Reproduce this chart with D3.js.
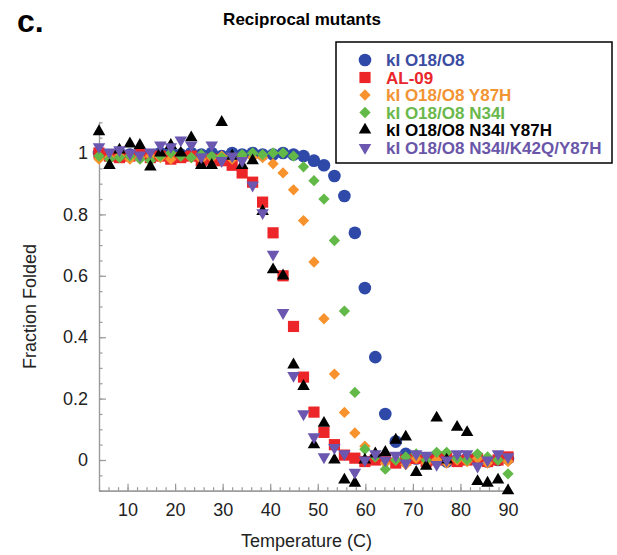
<!DOCTYPE html>
<html>
<head>
<meta charset="utf-8">
<script src="https://cdn.jsdelivr.net/npm/d3@7"></script>
<style>
  body { margin: 0; background: #fff; }
  text { font-family: "Liberation Sans", Arial, sans-serif; }
</style>
</head>
<body>
<div id="chart"></div>
<script>
// temperatures (C) of the melt points
const temps = [4.0, 6.2, 8.3, 10.5, 12.6, 14.8, 16.9, 19.1, 21.2, 23.4, 25.5, 27.7, 29.8, 32.0,
  34.1, 36.3, 38.4, 40.6, 42.7, 44.9, 47.0, 49.2, 51.3, 53.5, 55.6, 57.8, 59.9, 62.1, 64.2,
  66.4, 68.5, 70.7, 72.8, 75.0, 77.1, 79.3, 81.4, 83.6, 85.7, 87.9, 90.0];

const klO18O8 = [1.0, 0.99, 1.0, 0.995, 1.0, 0.99, 1.0, 1.005, 0.995, 1.0, 0.995, 1.0, 0.99, 1.0,
  0.995, 1.0, 0.995, 0.995, 1.0, 0.995, 0.99, 0.975, 0.96, 0.925, 0.86, 0.74, 0.56, 0.335, 0.15,
  0.06, 0.02, 0.005, 0.0, 0.01, -0.005, 0.0, 0.005, 0.0, -0.005, 0.0, 0.005];
const al09 = [1.0, 0.99, 0.985, 0.99, 0.995, 0.985, 0.99, 0.98, 0.985, 0.99, 0.975, 0.98, 0.975, 0.96,
  0.935, 0.905, 0.84, 0.74, 0.60, 0.435, 0.27, 0.156, 0.09, 0.05, 0.016, 0.006, -0.005, 0.0, 0.005,
  -0.01, 0.0, 0.005, -0.005, 0.0, 0.01, -0.005, 0.0, 0.005, -0.005, 0.0, 0.01];
const y87h = [0.98, 0.985, 0.99, 0.98, 0.985, 0.99, 0.985, 0.98, 0.99, 0.985, 0.98, 0.985, 0.99, 0.98,
  0.985, 0.985, 0.985, 0.965, 0.935, 0.88, 0.78, 0.645, 0.46, 0.28, 0.155, 0.088, 0.045, 0.01, -0.01,
  0.0, -0.015, 0.005, -0.01, 0.0, -0.01, 0.0, -0.005, 0.005, -0.01, 0.0, -0.005];
const n34i = [0.99, 0.98, 0.985, 0.99, 0.98, 0.975, 0.99, 1.0, 0.99, 0.985, 0.995, 0.99, 0.985, 0.99,
  0.995, 1.0, 0.995, 1.0, 1.0, 0.99, 0.955, 0.91, 0.85, 0.715, 0.485, 0.22, 0.035, 0.01, -0.03,
  0.0, 0.01, 0.02, 0.0, 0.025, 0.025, 0.005, 0.0, 0.02, 0.01, 0.0, -0.045];
const n34iY87h = [1.07, 0.96, 1.01, 1.03, 1.025, 0.955, 1.0, 1.025, 1.0, 1.05, 0.96, 0.96, 1.1, 0.99,
  0.96, 0.975, 0.81, 0.62, 0.60, 0.31, 0.24, 0.05, 0.12, 0.0, -0.065, -0.075, 0.0, 0.02, 0.025,
  0.065, 0.075, -0.04, -0.02, 0.137, 0.0, 0.107, 0.09, -0.07, -0.075, -0.065, -0.1];
const n34iK42qY87h = [1.02, 1.003, 1.01, 1.0, 0.993, 1.003, 1.026, 1.02, 1.042, 1.026, 0.987, 1.026, 0.975, 0.99,
  0.975, 0.895, 0.805, 0.67, 0.48, 0.275, 0.15, 0.075, 0.01, 0.04, 0.02, -0.04, 0.0, 0.02, 0.0,
  0.015, -0.01, 0.02, 0.015, -0.015, 0.0, 0.02, 0.02, -0.02, 0.0, 0.02, 0.01];

const seriesNames = ["kI O18/O8", "AL-09", "kI O18/O8 Y87H", "kI O18/O8 N34I",
  "kI O18/O8 N34I Y87H", "kI O18/O8 N34I/K42Q/Y87H"];
const xTicks = [10, 20, 30, 40, 50, 60, 70, 80, 90];
const yTicks = [0, 0.2, 0.4, 0.6, 0.8, 1];

const series = [
  { name: seriesNames[0], values: klO18O8, color: "#2e49a8", text: "#3b4ca3", shape: "circle" },
  { name: seriesNames[1], values: al09, color: "#ec2628", text: "#e8262b", shape: "square" },
  { name: seriesNames[2], values: y87h, color: "#f7922c", text: "#f29434", shape: "diamond" },
  { name: seriesNames[3], values: n34i, color: "#62b947", text: "#6ab84b", shape: "diamond" },
  { name: seriesNames[4], values: n34iY87h, color: "#000000", text: "#000000", shape: "up" },
  { name: seriesNames[5], values: n34iK42qY87h, color: "#6b57b0", text: "#6a56a9", shape: "down" }
];

const W = 617, H = 555;
const svg = d3.select("#chart").append("svg")
  .attr("width", W).attr("height", H)
  .style("background", "#fff");

const x = d3.scaleLinear().domain([4, 90]).range([99, 508]);
const y = d3.scaleLinear().domain([-0.1, 1.1]).range([490.7, 122.3]);

// symbol paths
function symbolPath(shape) {
  if (shape === "circle") return d3.symbol(d3.symbolCircle, 125)();
  if (shape === "square") return d3.symbol(d3.symbolSquare, 125)();
  if (shape === "diamond") return d3.symbol(d3.symbolSquare, 64)();
  return d3.symbol(d3.symbolTriangle, 68)();
}
function symbolRot(shape) {
  if (shape === "diamond") return 45;
  if (shape === "down") return 180;
  return 0;
}

// axes (ticks point inward, grey lines)
const axisColor = "#9a9a9a";
const minorX = d3.range(4, 91, 2);
const minorY = d3.range(-0.1, 1.1001, 0.05).map(v => +v.toFixed(2));

const gx = svg.append("g").attr("transform", `translate(0,${y(-0.1)})`);
gx.call(d3.axisBottom(x).tickValues(minorX).tickSizeInner(-3.5).tickSizeOuter(0).tickFormat(""));
gx.append("g").call(d3.axisBottom(x).tickValues(xTicks).tickSizeInner(-7).tickSizeOuter(0).tickPadding(13));
gx.selectAll("path, line").attr("stroke", axisColor).attr("stroke-width", 1.2);
gx.selectAll("text").attr("fill", "#222").style("font-size", "18px");

const gy = svg.append("g").attr("transform", `translate(${x(4)},0)`);
gy.call(d3.axisLeft(y).tickValues(minorY).tickSizeInner(-3.5).tickSizeOuter(0).tickFormat(""));
gy.append("g").call(d3.axisLeft(y).tickValues(yTicks).tickSizeInner(-7).tickSizeOuter(0)
  .tickPadding(11).tickFormat(d => d === 0 || d === 1 ? d : d3.format(".1f")(d)));
gy.selectAll("path, line").attr("stroke", axisColor).attr("stroke-width", 1.2);
gy.selectAll("text").attr("fill", "#222").style("font-size", "18px");

// points
series.forEach(s => {
  svg.append("g").selectAll("path")
    .data(temps.map((t, i) => ({ t: t, v: s.values[i] })))
    .join("path")
    .attr("d", symbolPath(s.shape))
    .attr("fill", s.color)
    .attr("transform", d => `translate(${x(d.t)},${y(d.v)}) rotate(${symbolRot(s.shape)})`);
});

// axis titles
svg.append("text")
  .attr("x", (x(4) + x(90)) / 2 + 3).attr("y", 547)
  .attr("text-anchor", "middle").style("font-size", "18px").attr("fill", "#222")
  .text("Temperature (C)");
svg.append("text")
  .attr("transform", `translate(36,${y(0.5)}) rotate(-90)`)
  .attr("text-anchor", "middle").style("font-size", "18px").attr("fill", "#222")
  .text("Fraction Folded");

// panel letter and title
svg.append("text").attr("x", 17).attr("y", 32)
  .style("font-size", "32px").style("font-weight", "bold").text("c.");
svg.append("text").attr("x", 302).attr("y", 25).attr("text-anchor", "middle")
  .style("font-size", "17px").style("font-weight", "bold").text("Reciprocal mutants");

// legend
const lg = svg.append("g");
lg.append("rect").attr("x", 336).attr("y", 42).attr("width", 276).attr("height", 121)
  .attr("fill", "#fff").attr("stroke", "#000").attr("stroke-width", 1.5);
series.forEach((s, k) => {
  const cy = 60 + k * 17.5;
  lg.append("path")
    .attr("d", symbolPath(s.shape))
    .attr("fill", s.color)
    .attr("transform", `translate(365,${cy}) rotate(${symbolRot(s.shape)})`);
  lg.append("text").attr("x", 386).attr("y", cy + 6)
    .style("font-size", "17px").style("font-weight", "bold")
    .attr("fill", s.text).text(s.name);
});
</script>
</body>
</html>
